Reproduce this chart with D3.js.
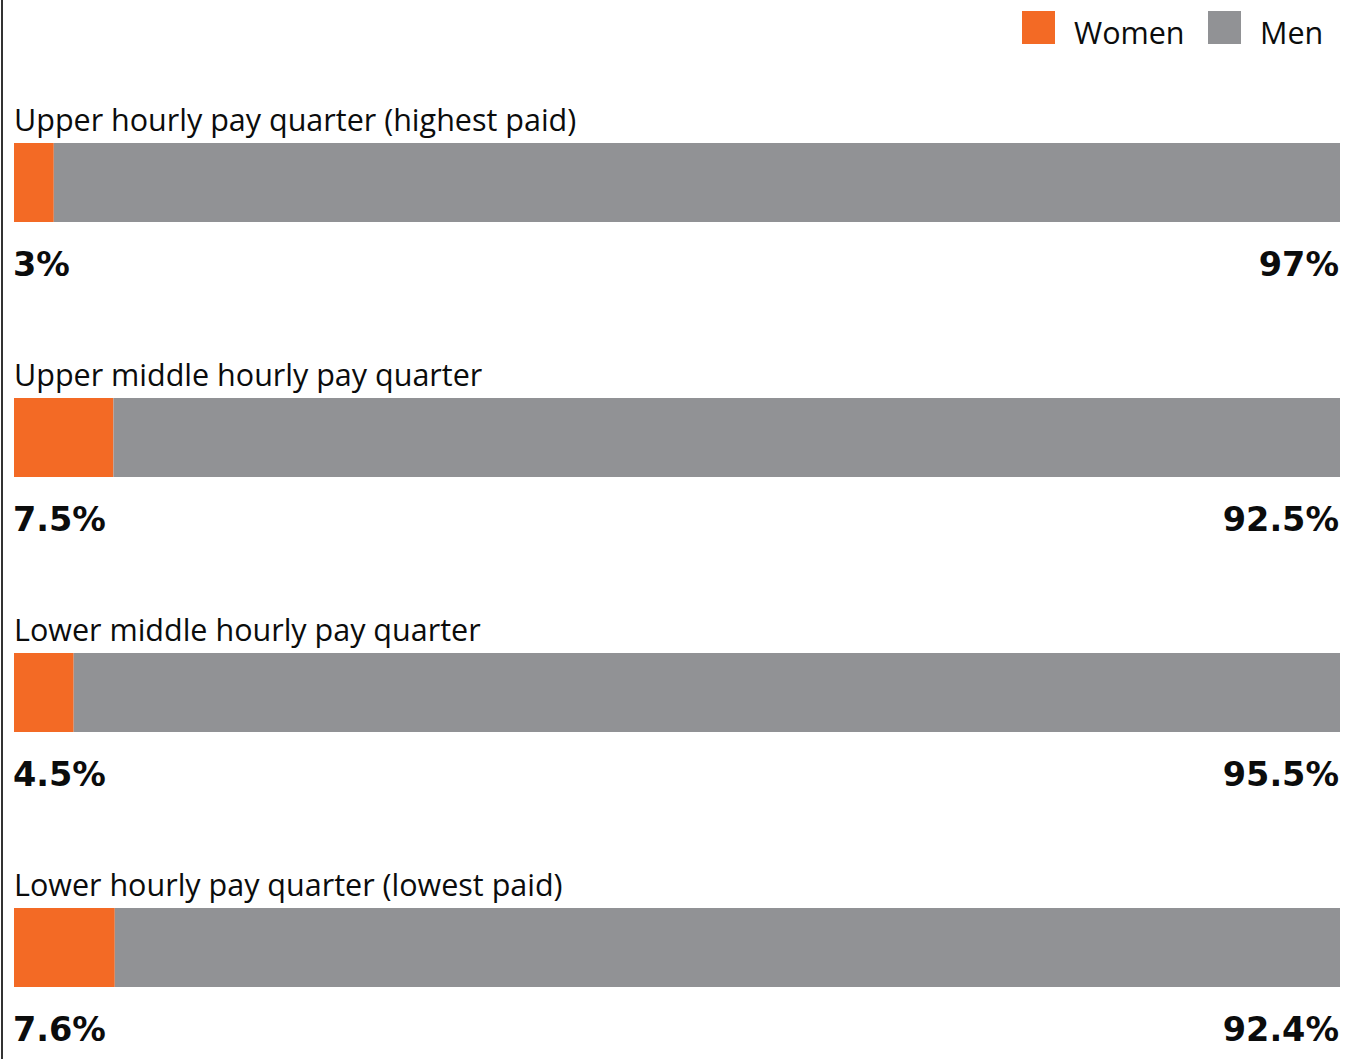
<!DOCTYPE html>
<html>
<head>
<meta charset="utf-8">
<script src="https://cdn.jsdelivr.net/npm/d3@7"></script>
<style>
  body { margin: 0; background: #fff; }
  svg { display: block; font-family: "Open Sans", "Noto Sans", sans-serif; }
  .cat-label { font-size: 30.5px; fill: #0b0c0c; }
  .val-label { font-family: "DejaVu Sans", sans-serif; font-size: 33.5px; font-weight: bold; fill: #0b0c0c; }
  .legend-text { font-size: 30.5px; fill: #0b0c0c; }
</style>
</head>
<body>
<div id="chart"></div>
<script>
// Data
const categories = [
  "Upper hourly pay quarter (highest paid)",
  "Upper middle hourly pay quarter",
  "Lower middle hourly pay quarter",
  "Lower hourly pay quarter (lowest paid)"
];
const women = [3, 7.5, 4.5, 7.6];
const men = [97, 92.5, 95.5, 92.4];
const seriesNames = ["Women", "Men"];
const seriesColors = ["#f36a25", "#919295"];

const width = 1354, height = 1059;

const svg = d3.select("#chart").append("svg")
  .attr("width", width).attr("height", height);

// left frame line
svg.append("line")
  .attr("x1", 2).attr("x2", 2).attr("y1", 0).attr("y2", height)
  .attr("stroke", "#333").attr("stroke-width", 2);

// scales
const scaleX = d3.scaleLinear().domain([0, 100]).range([14, 1340]);
const scaleY = d3.scaleBand().domain(categories).range([143, 143 + 255 * 4]).paddingInner(0).paddingOuter(0);
const barH = 79;

const color = d3.scaleOrdinal().domain(seriesNames).range(seriesColors);

const rows = categories.map((c, i) => ({ cat: c, women: women[i], men: men[i] }));

const g = svg.selectAll("g.row").data(rows).join("g").attr("class", "row")
  .attr("transform", d => `translate(0, ${scaleY(d.cat)})`);

g.append("text").attr("class", "cat-label")
  .attr("x", 14).attr("y", -12).text(d => d.cat);

g.append("rect")
  .attr("x", scaleX(0)).attr("y", 0)
  .attr("width", d => scaleX(d.women) - scaleX(0)).attr("height", barH)
  .attr("fill", color("Women"));

g.append("rect")
  .attr("x", d => scaleX(d.women)).attr("y", 0)
  .attr("width", d => scaleX(100) - scaleX(d.women)).attr("height", barH)
  .attr("fill", color("Men"));

g.append("text").attr("class", "val-label")
  .attr("x", 13).attr("y", barH + 54).text(d => d.women + "%");

g.append("text").attr("class", "val-label")
  .attr("x", 1339).attr("y", barH + 54).attr("text-anchor", "end").text(d => d.men + "%");

// legend
const legend = svg.append("g");
const legendX = [1022, 1208];
seriesNames.forEach((s, i) => {
  legend.append("rect").attr("x", legendX[i]).attr("y", 11)
    .attr("width", 33).attr("height", 33).attr("fill", color(s));
  legend.append("text").attr("class", "legend-text")
    .attr("x", legendX[i] + 52).attr("y", 44).text(s);
});
</script>
</body>
</html>
